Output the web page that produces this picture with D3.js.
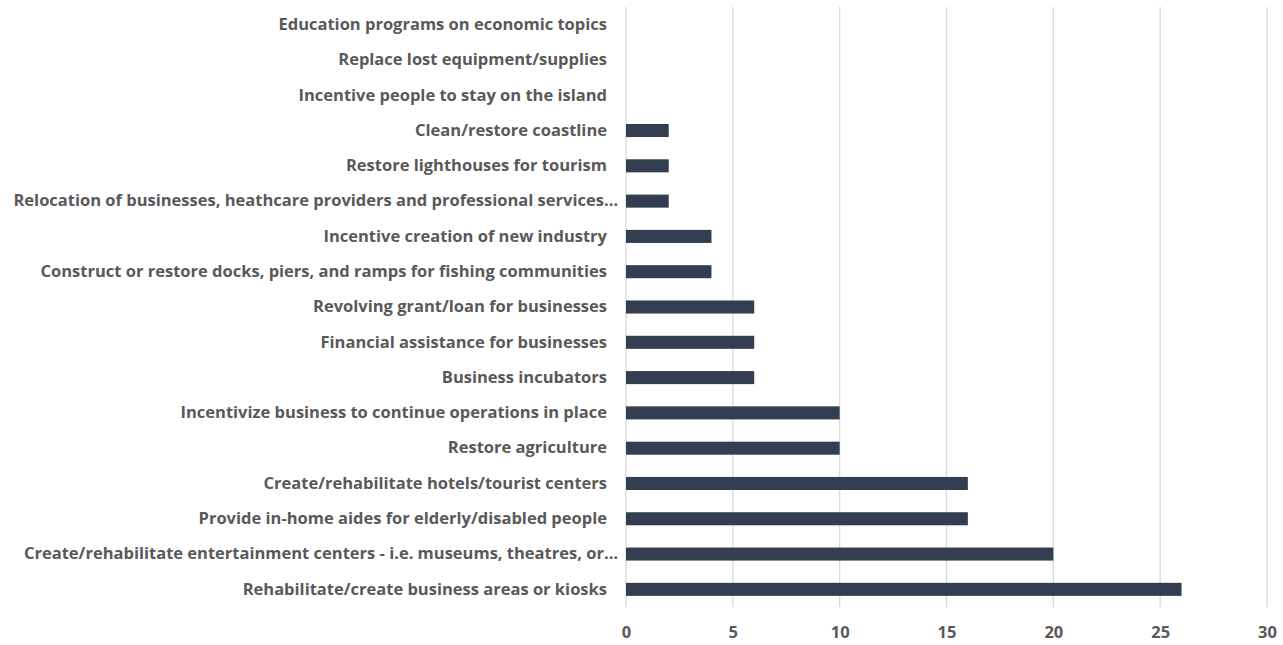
<!DOCTYPE html>
<html>
<head>
<meta charset="utf-8">
<script src="https://cdn.jsdelivr.net/npm/d3@7"></script>
<style>
  body { margin: 0; background: #fff; }
  text { font-family: "Open Sans", "Liberation Sans", sans-serif; font-weight: 700; fill: #595959; }
</style>
</head>
<body>
<div id="chart"></div>
<script>
// 分类（自上而下）
const categories = [
  "Education programs on economic topics",
  "Replace lost equipment/supplies",
  "Incentive people to stay on the island",
  "Clean/restore coastline",
  "Restore lighthouses for tourism",
  "Relocation of businesses, heathcare providers and professional services…",
  "Incentive creation of new industry",
  "Construct or restore docks, piers, and ramps for fishing communities",
  "Revolving grant/loan for businesses",
  "Financial assistance for businesses",
  "Business incubators",
  "Incentivize business to continue operations in place",
  "Restore agriculture",
  "Create/rehabilitate hotels/tourist centers",
  "Provide in-home aides for elderly/disabled people",
  "Create/rehabilitate entertainment centers - i.e. museums, theatres, or…",
  "Rehabilitate/create business areas or kiosks"
];
const counts = [0, 0, 0, 2, 2, 2, 4, 4, 6, 6, 6, 10, 10, 16, 16, 20, 26];
const xTicks = [0, 5, 10, 15, 20, 25, 30];

const W = 1283, H = 645;
const margin = { top: 7, right: 16, bottom: 38, left: 626 };
const width = W - margin.left - margin.right;
const height = H - margin.top - margin.bottom;

const svg = d3.select("#chart").append("svg")
  .attr("width", W).attr("height", H)
  .append("g").attr("transform", `translate(${margin.left},${margin.top})`);

const x = d3.scaleLinear().domain([0, 30]).range([0, width]);
const y = d3.scaleBand().domain(categories).range([0, height]).paddingInner(0.63).paddingOuter(0.315);

// 网格线
svg.selectAll(".grid").data(xTicks).enter().append("line")
  .attr("x1", d => x(d)).attr("x2", d => x(d))
  .attr("y1", 0).attr("y2", height)
  .attr("stroke", "#d9d9d9").attr("stroke-width", 1.3);

// 条形
svg.selectAll(".bar").data(categories).enter().append("rect")
  .attr("x", x(0))
  .attr("y", d => y(d))
  .attr("width", (d, i) => x(counts[i]) - x(0))
  .attr("height", y.bandwidth())
  .attr("fill", "#333f50");

// x 轴
const xAxis = svg.append("g").attr("transform", `translate(0,${height})`)
  .call(d3.axisBottom(x).tickValues(xTicks).tickSize(0).tickPadding(19));
xAxis.select(".domain").remove();
xAxis.selectAll("text").style("font-size", "16.5px");

// y 轴标签（截断的标签更靠近轴）
const yAxis = svg.append("g")
  .call(d3.axisLeft(y).tickSize(0).tickPadding(19));
yAxis.select(".domain").remove();
yAxis.selectAll("text").style("font-size", "16.5px")
  .attr("dx", d => d.endsWith("…") ? 11 : 0);
</script>
</body>
</html>
